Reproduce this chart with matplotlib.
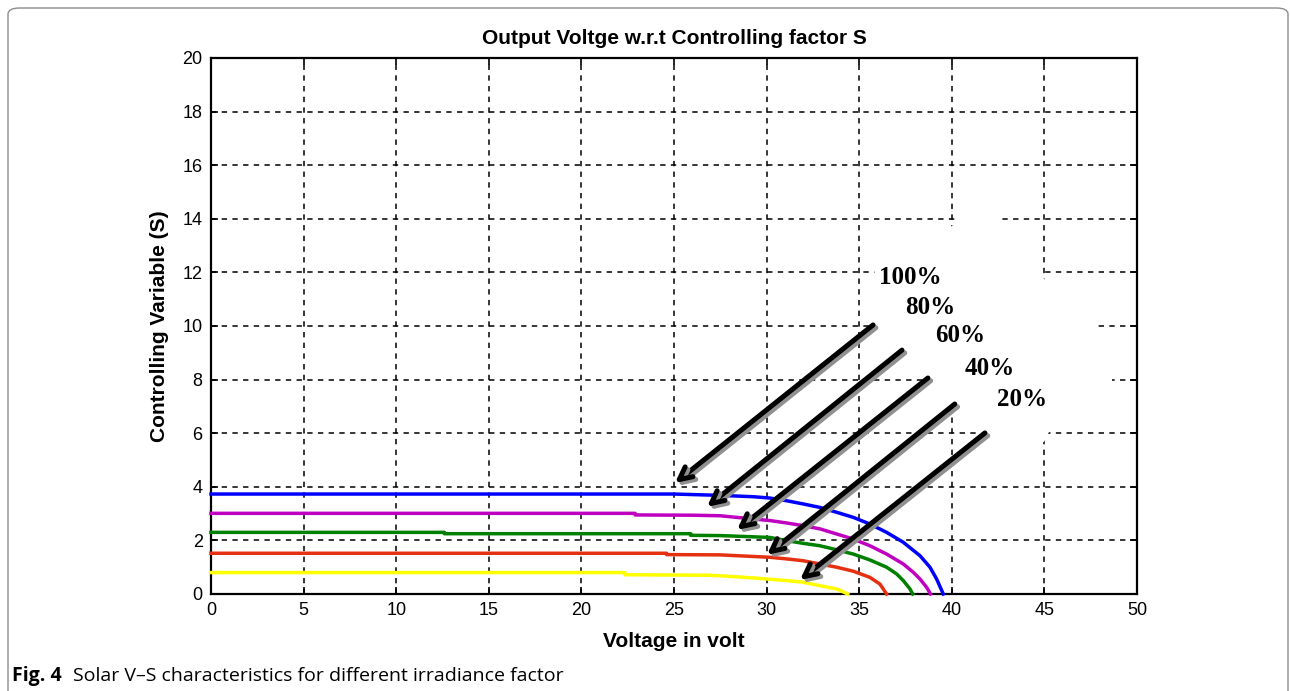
import matplotlib
matplotlib.use("Agg")
import matplotlib.pyplot as plt
import matplotlib.patheffects as pe
from matplotlib.patches import FancyBboxPatch, Polygon

# ---------------- data ----------------
v100 = [0, 25.0, 27.5, 29.28, 30.18, 31.08, 31.98, 32.88, 33.78, 34.68, 35.58,
        36.48, 37.38, 38.28, 38.82, 39.18, 39.54]
s100 = [3.73, 3.73, 3.68, 3.63, 3.58, 3.48, 3.36, 3.23, 3.05, 2.86, 2.61,
        2.30, 1.93, 1.43, 1.00, 0.56, 0.0]

v80 = [0, 22.9, 22.9, 26.0, 27.48, 28.38, 29.28, 30.18, 31.08, 31.98, 32.88, 33.78,
       34.68, 35.58, 36.48, 37.38, 37.92, 38.28, 38.64, 38.85]
s80 = [3.01, 3.01, 2.95, 2.94, 2.92, 2.86, 2.80, 2.74, 2.65, 2.55, 2.43, 2.24,
       2.05, 1.80, 1.49, 1.12, 0.81, 0.56, 0.25, 0.0]

v60 = [0, 12.6, 12.6, 25.9, 25.9, 27.48, 30.18, 31.08, 31.98, 32.88, 33.78, 34.68,
       35.58, 36.48, 37.02, 37.38, 37.74, 37.89]
s60 = [2.30, 2.30, 2.25, 2.25, 2.19, 2.18, 2.11, 1.99, 1.89, 1.80, 1.65, 1.49,
       1.27, 1.00, 0.75, 0.50, 0.19, 0.0]

v40 = [0, 24.6, 24.6, 27.48, 30.18, 31.08, 31.98, 32.88, 33.78, 34.68, 35.58,
       36.12, 36.48]
s40 = [1.52, 1.52, 1.47, 1.46, 1.37, 1.31, 1.24, 1.12, 1.00, 0.85, 0.62,
       0.37, 0.0]

v20 = [0, 22.35, 22.35, 26.8, 27.48, 29.28, 31.08, 31.98, 32.88, 33.78, 34.38]
s20 = [0.80, 0.80, 0.72, 0.70, 0.68, 0.60, 0.50, 0.44, 0.31, 0.19, 0.0]

series_v = [v100, v80, v60, v40, v20]
series_s = [s100, s80, s60, s40, s20]
colors = ["#0000ff", "#c000c0", "#008000", "#e53012", "#ffff00"]

labels = ["100%", "80%", "60%", "40%", "20%"]
label_xy = [(37.75, 11.8), (38.82, 10.7), (40.44, 9.65), (42.06, 8.42), (43.79, 7.26)]
arrow_start = [(35.75, 10.04), (37.31, 9.10), (38.71, 8.06), (40.16, 7.09), (41.79, 6.01)]
arrow_end = [(25.05, 4.14), (26.78, 3.25), (28.40, 2.39), (30.02, 1.46), (31.80, 0.52)]

x_ticks = list(range(0, 51, 5))
y_ticks = list(range(0, 21, 2))

# white cover patch over the grid (as in the pasted reference figure)
cover = [(35.69, 12.54), (40.01, 13.73), (40.55, 14.14), (42.28, 14.14), (44.92, 12.28),
         (44.92, 11.79), (47.79, 10.30), (47.79, 9.70), (48.65, 8.28), (48.65, 7.69),
         (45.30, 6.12), (44.98, 5.67), (42.6, 5.67), (41.85, 5.90), (39.9, 6.79),
         (38.82, 7.80), (35.69, 10.15), (35.9, 11.7)]

# ---------------- figure ----------------
W, H = 1290, 691
fig = plt.figure(figsize=(W / 100, H / 100), dpi=100)
fig.patch.set_facecolor("white")

# rounded frame (bottom edge lies just outside the picture)
frame = FancyBboxPatch((8 / W, -8 / H), (1288 - 8) / W, (683 + 8) / H,
                       boxstyle="round,pad=0,rounding_size=0.009",
                       transform=fig.transFigure, facecolor="none",
                       edgecolor="#8c8c8c", linewidth=1.0)
fig.patches.append(frame)

ax = fig.add_axes([211 / W, 1 - 594 / H, (1137 - 211) / W, (594 - 58) / H])
ax.set_xlim(0, 50)
ax.set_ylim(0, 20)
ax.set_xticks(x_ticks)
ax.set_yticks(y_ticks)
tick_font = dict(family="Liberation Sans", size=13)
ax.set_xticklabels([str(t) for t in x_ticks], **tick_font)
ax.set_yticklabels([str(t) for t in y_ticks], **tick_font)
ax.tick_params(direction="in", length=5, width=1.2, top=True, right=True,
               pad=6, colors="black")
for sp in ax.spines.values():
    sp.set_linewidth(1.6)
    sp.set_color("black")
ax.grid(True, color="black", linestyle=(0, (3.5, 3.5)), linewidth=1.1)
ax.set_axisbelow(True)

ax.add_patch(Polygon(cover, closed=True, facecolor="white", edgecolor="none", zorder=1.5))

for v, s, c in zip(series_v, series_s, colors):
    ax.plot(v, s, color=c, linewidth=2.5, zorder=3, clip_on=False,
            solid_joinstyle="round")

shadow = [pe.SimpleLineShadow(offset=(2, -2), shadow_color="#909090", alpha=1.0),
          pe.Normal()]
for (xs, ys), (xe, ye) in zip(arrow_start, arrow_end):
    ax.annotate("", xy=(xe, ye), xytext=(xs, ys), zorder=5,
                arrowprops=dict(arrowstyle="->,head_length=0.9,head_width=0.45",
                                color="black", lw=3.6, shrinkA=0, shrinkB=0,
                                path_effects=shadow))

for lab, (lx, ly) in zip(labels, label_xy):
    ax.text(lx, ly, lab, ha="center", va="center", family="Liberation Serif",
            fontweight="bold", fontsize=18, zorder=6)

ax.set_title("Output Voltge w.r.t Controlling factor S", family="Liberation Sans",
             fontweight="bold", fontsize=15, pad=10)
ax.set_xlabel("Voltage in volt", family="Liberation Sans", fontweight="bold",
              fontsize=15, labelpad=9)
ax.set_ylabel("Controlling Variable (S)", family="Liberation Sans", fontweight="bold",
              fontsize=15, labelpad=10)

# caption
t1 = fig.text(12 / W, 1 - 676 / H, "Fig. 4", family="Open Sans", fontweight="bold",
              fontsize=14, va="center", ha="left")
fig.canvas.draw()
bb = t1.get_window_extent()
fig.text((bb.x1 + 11) / W, 1 - 676 / H,
         "Solar V\u2013S characteristics for different irradiance factor",
         family="Open Sans", fontsize=14, va="center", ha="left")

fig.savefig("out.png", dpi=100, facecolor="white")
